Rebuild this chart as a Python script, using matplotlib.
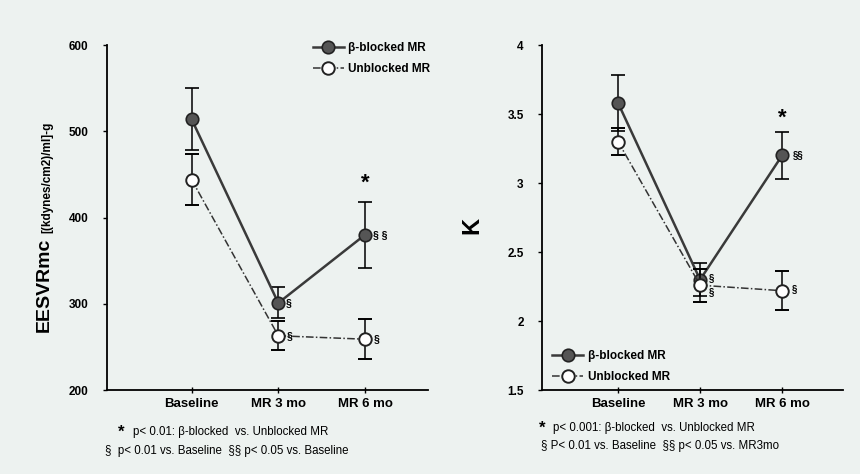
import matplotlib.pyplot as plt
from matplotlib.lines import Line2D
import numpy as np

plt.rcParams["font.family"] = ["Liberation Sans", "DejaVu Sans"]

BG = "#edf2f0"

groups = ["Baseline", "MR 3 mo", "MR 6 mo"]

# EESVRmc panel
eesvr_blocked = [514, 301, 380]
eesvr_blocked_err = [36, 18, 38]
eesvr_unblocked = [444, 263, 259]
eesvr_unblocked_err = [30, 17, 23]
eesvr_ticks = [200, 300, 400, 500, 600]

# K panel
k_blocked = [3.58, 2.30, 3.20]
k_blocked_err = [0.20, 0.12, 0.17]
k_unblocked = [3.30, 2.26, 2.22]
k_unblocked_err = [0.10, 0.12, 0.14]
k_ticks = [1.5, 2, 2.5, 3, 3.5, 4]
k_tick_labels = ["1.5", "2", "2.5", "3", "3.5", "4"]

label_blocked = "β-blocked MR"
label_unblocked = "Unblocked MR"

BLOCKED_STYLE = dict(color="#3a3a3a", lw=1.8, marker="o", ms=9,
                     mfc="#555555", mec="#222222", mew=1.2)
UNBLOCKED_STYLE = dict(color="#333333", lw=1.1, ls=(0, (5, 1.5, 1, 1.5)),
                       marker="o", ms=9, mfc="white", mec="#222222", mew=1.4)


def draw_series(ax, x, y, err, filled):
    style = BLOCKED_STYLE if filled else UNBLOCKED_STYLE
    ax.errorbar(x, y, yerr=err, ecolor="black", elinewidth=1.1, capsize=5,
                capthick=1.1, zorder=3 if filled else 4, **style)


def add_legend(ax, spacing=0.6, **kw):
    handles = [Line2D([], [], **BLOCKED_STYLE), Line2D([], [], **UNBLOCKED_STYLE)]
    ax.legend(handles, [label_blocked, label_unblocked], frameon=False,
              handlelength=2.6, handletextpad=0.4, labelspacing=spacing,
              prop={"weight": "bold", "size": 8.5}, **kw)


def style_axes(ax, ticks, tick_labels, xlim, ylim):
    ax.set_facecolor(BG)
    for side in ["top", "right"]:
        ax.spines[side].set_visible(False)
    ax.spines["left"].set_linewidth(1.3)
    ax.spines["bottom"].set_linewidth(1.3)
    ax.set_xlim(*xlim)
    ax.set_ylim(*ylim)
    ax.set_yticks(ticks)
    ax.set_yticklabels(tick_labels, fontsize=8.5, fontweight="bold")
    ax.set_xticks(range(len(groups)))
    ax.set_xticklabels(groups, fontsize=9.5, fontweight="bold")
    ax.tick_params(axis="y", length=3, width=1, pad=10)
    ax.tick_params(axis="x", direction="inout", length=5, width=1, pad=3)


def mark(ax, x, y, text, dx, dy, size=7.5):
    ax.annotate(text, (x, y), xytext=(dx, dy), textcoords="offset points",
                fontsize=size, fontweight="bold", va="center", ha="left")


fig = plt.figure(figsize=(8.6, 4.74), dpi=100, facecolor=BG)
ax1 = fig.add_axes([0.124, 0.177, 0.374, 0.728])
ax2 = fig.add_axes([0.630, 0.177, 0.350, 0.728])

x = np.arange(len(groups))

# --- left panel ---
draw_series(ax1, x, eesvr_blocked, eesvr_blocked_err, True)
draw_series(ax1, x, eesvr_unblocked, eesvr_unblocked_err, False)
style_axes(ax1, eesvr_ticks, [str(t) for t in eesvr_ticks], (-0.98, 2.73), (200, 600))
add_legend(ax1, spacing=0.8, loc="upper right", bbox_to_anchor=(1.04, 1.04))

ax1.annotate("*", (2, 440), ha="center", va="center", fontsize=16, fontweight="bold")
mark(ax1, 2, eesvr_blocked[2], "§ §", 6, 0)
mark(ax1, 1, eesvr_blocked[1], "§", 5, 0)
mark(ax1, 1, eesvr_unblocked[1], "§", 6, 0)
mark(ax1, 2, eesvr_unblocked[2], "§", 6, 0)

# axis title: large measure name followed by smaller units
fig.text(0.052, 0.400, "EESVRmc", rotation=90, ha="center", va="center",
         fontsize=14, fontweight="bold")
fig.text(0.055, 0.508, "[(kdynes/cm2)/ml]-g", rotation=90, ha="center",
         va="bottom", fontsize=8.5, fontweight="bold")

fig.text(0.137, 0.088, "*", fontsize=12, fontweight="bold", va="center")
fig.text(0.155, 0.088, "p< 0.01: β-blocked  vs. Unblocked MR", fontsize=8.3, va="center")
fig.text(0.122, 0.048, "§  p< 0.01 vs. Baseline  §§ p< 0.05 vs. Baseline",
         fontsize=8.3, va="center")

# --- right panel ---
draw_series(ax2, x, k_blocked, k_blocked_err, True)
draw_series(ax2, x, k_unblocked, k_unblocked_err, False)
style_axes(ax2, k_ticks, k_tick_labels, (-0.93, 2.74), (1.5, 4))
add_legend(ax2, spacing=0.75, loc="lower left", bbox_to_anchor=(0.0, -0.01))

ax2.annotate("*", (2, 3.47), ha="center", va="center", fontsize=16, fontweight="bold")
mark(ax2, 2, k_blocked[2], "§§", 8, 0, 7)
mark(ax2, 1, k_blocked[1], "§", 6, 1, 7)
mark(ax2, 1, k_unblocked[1], "§", 6, -5, 7)
mark(ax2, 2, k_unblocked[2], "§", 7, 1, 7)

fig.text(0.549, 0.525, "K", rotation=90, ha="center", va="center",
         fontsize=17, fontweight="bold")

fig.text(0.627, 0.097, "*", fontsize=12, fontweight="bold", va="center")
fig.text(0.643, 0.097, "p< 0.001: β-blocked  vs. Unblocked MR", fontsize=8.3, va="center")
fig.text(0.629, 0.059, "§ P< 0.01 vs. Baseline  §§ p< 0.05 vs. MR3mo",
         fontsize=8.3, va="center")

fig.savefig("out.png", dpi=100, facecolor=BG)
